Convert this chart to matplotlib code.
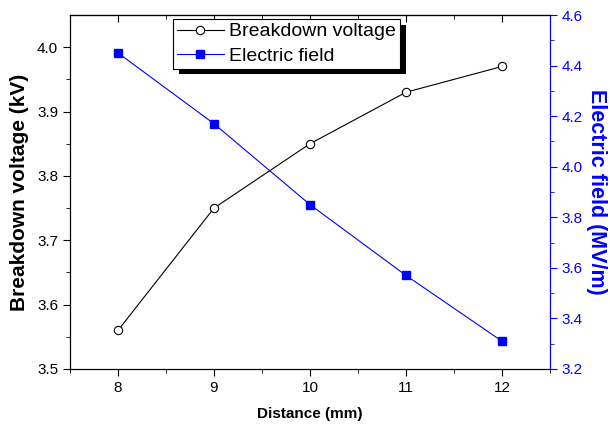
import matplotlib.pyplot as plt
import matplotlib.patheffects as pe
import numpy as np

plt.rcParams['font.family'] = ['Liberation Sans', 'DejaVu Sans']

# datos
distancia = [8, 9, 10, 11, 12]
voltaje = [3.56, 3.75, 3.85, 3.93, 3.97]
campo = [4.45, 4.17, 3.85, 3.57, 3.31]

azul = '#0000ff'

fig = plt.figure(figsize=(6.1, 4.28), dpi=100)
ax = fig.add_axes([70 / 610, 1 - 369 / 428, 480 / 610, 354 / 428])
ax2 = ax.twinx()

l1, = ax.plot(distancia, voltaje, color='k', lw=0.8, marker='o', ms=6,
              mfc='white', mec='k', mew=0.8, label='Breakdown voltage')
l2, = ax2.plot(distancia, campo, color=azul, lw=0.8, marker='s', ms=6,
               mfc=azul, mec=azul, label='Electric field')

ax.set_xlim(7.5, 12.5)
ax.set_ylim(3.5, 4.05)
ax2.set_ylim(3.2, 4.6)

ax.set_xticks([8, 9, 10, 11, 12])
ax.set_xticks(np.arange(7.5, 12.6, 0.5), minor=True)
ax.set_yticks([3.5, 3.6, 3.7, 3.8, 3.9, 4.0])
ax.set_yticks(np.arange(3.55, 4.05, 0.1), minor=True)
ax.set_yticklabels(['3.5', '3.6', '3.7', '3.8', '3.9', '4.0'])
ax2.set_yticks([3.2, 3.4, 3.6, 3.8, 4.0, 4.2, 4.4, 4.6])
ax2.set_yticks(np.arange(3.3, 4.6, 0.2), minor=True)
ax2.set_yticklabels(['3.2', '3.4', '3.6', '3.8', '4.0', '4.2', '4.4', '4.6'])

ax.tick_params(axis='x', which='both', direction='out', top=False, labelsize=11)
ax.tick_params(axis='x', which='major', length=5)
ax.tick_params(axis='x', which='minor', length=3)
ax.tick_params(axis='y', which='major', direction='out', length=5, labelsize=11)
ax.tick_params(axis='y', which='minor', direction='out', length=3)
ax2.tick_params(axis='y', which='major', direction='out', length=5, labelsize=11,
                colors=azul)
ax2.tick_params(axis='y', which='minor', direction='out', length=3, colors=azul)
ax2.spines['right'].set_color(azul)

# ticks de arriba hacia adentro
sec = ax.secondary_xaxis('top')
sec.set_xticks([8, 9, 10, 11, 12])
sec.set_xticks(np.arange(7.5, 12.6, 0.5), minor=True)
sec.tick_params(which='both', direction='in', labeltop=False)
sec.tick_params(which='major', length=5)
sec.tick_params(which='minor', length=3)

ax.set_xlabel('Distance (mm)', fontsize=11, fontweight='bold', labelpad=9)
ax.set_ylabel('Breakdown voltage (kV)', fontsize=15, fontweight='bold', labelpad=6)
ax2.set_ylabel('Electric field (MV/m)', fontsize=15.5, fontweight='bold',
               color=azul, rotation=270, labelpad=17)

leg = ax.legend([l1, l2], ['Breakdown voltage', 'Electric field'],
                loc='upper left', bbox_to_anchor=(103 / 480, 1 - 4 / 354),
                borderaxespad=0, fontsize=14, fancybox=False, edgecolor='k',
                framealpha=1, borderpad=0.2, labelspacing=0.35,
                handlelength=2.4, handletextpad=0.3)
leg.get_frame().set_linewidth(0.8)
# sombra negra desplazada como en Origin
leg.get_frame().set_path_effects([
    pe.SimplePatchShadow(offset=(4, -4), shadow_rgbFace='k', alpha=1),
    pe.Normal()])

fig.savefig('out.png', dpi=100)
